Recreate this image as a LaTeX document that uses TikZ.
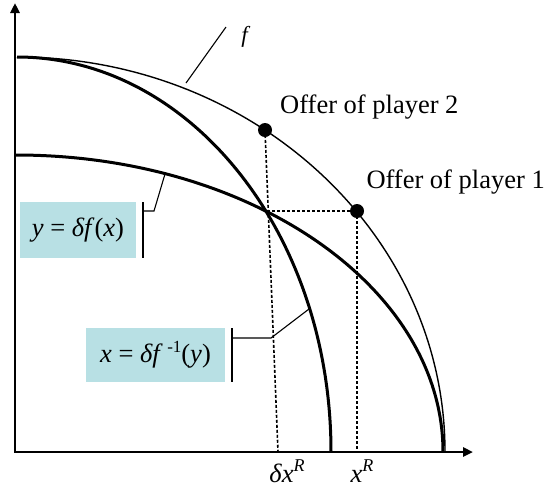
\documentclass[tikz,border=0pt]{standalone}
\usepackage{fontspec}
\setmainfont{Liberation Serif}
\usetikzlibrary{arrows.meta}
\definecolor{boxfill}{RGB}{184,224,228}
\begin{document}
\begin{tikzpicture}[x=1pt,y=1pt,
  axis/.style={line width=2.8pt},
  thickcurve/.style={line width=3pt},
  thincurve/.style={line width=1.4pt},
  guide/.style={line width=1.6pt, dash pattern=on 3pt off 2pt},
  leader/.style={line width=1.1pt},
  bar/.style={line width=1.4pt},
  lbl/.style={font=\fontsize{26.5}{30}\selectfont, inner sep=0pt},
  eqbox/.style={fill=boxfill, inner sep=0pt, font=\fontsize{26.5}{30}\selectfont},
  dot/.style={circle, fill=black, inner sep=0pt, minimum size=14pt}]
\useasboundingbox (0,0) rectangle (548,-499);

% axes
\coordinate (O) at (15,-452);
\coordinate (ytop) at (15,-3);
\coordinate (xend) at (473,-452);
\draw[axis,{Triangle[length=10pt,width=9pt]}-{Triangle[length=10pt,width=9pt]}] (ytop) -- (O) -- (xend);

% curves
\draw[thincurve] (17,-57) arc[start angle=90, end angle=0, x radius=428pt, y radius=395pt];
\draw[thickcurve] (17,-57) arc[start angle=90, end angle=0, x radius=314pt, y radius=395pt];
\draw[thickcurve] (16,-155) arc[start angle=90, end angle=0, x radius=427pt, y radius=297pt];

% points
\node[dot] (p2) at (265,-130) {};
\node[dot] (p1) at (357,-211) {};
\coordinate (X) at (267,-211);
\coordinate (dxr) at (278,-452);
\coordinate (xr) at (357,-452);

\draw[guide] (p2.center) -- (dxr);
\draw[guide] (X) -- (p1.center);
\draw[guide] (p1.center) -- (xr);

% labels
\node[lbl, anchor=base west] (o2) at (280,-113) {Offer of player 2};
\node[lbl, anchor=base east] (o1) at (545,-188) {Offer of player 1};
\node[lbl, anchor=base] (ldxr) at (287,-482) {\textit{δx}\raisebox{0.38em}{\fontsize{18}{18}\selectfont\textit{R}}};
\node[lbl, anchor=base] (lxr) at (362,-482) {\textit{x}\raisebox{0.38em}{\fontsize{18}{18}\selectfont\textit{R}}};

% f label
\node[lbl, font=\fontsize{23}{26}\selectfont] (fl) at (246,-37) {\textit{f}};
\coordinate (fa) at (226,-27);
\coordinate (fb) at (186,-83);
\draw[leader] (fa) -- (fb);

% box 1
\node[eqbox, minimum width=116pt, minimum height=56pt] (b1) at (78,-230) {\textit{y} = \textit{δf}(\textit{x})};
\coordinate (b1t) at (143,-202);
\coordinate (b1b) at (143,-258);
\draw[bar] (b1t) -- (b1b);
\coordinate (b1k) at (154,-211);
\coordinate (c1) at (165,-174);
\draw[leader] (143,-211) -- (b1k) -- (c1);

% box 2
\node[eqbox, minimum width=139pt, minimum height=54pt] (b2) at (155.5,-355) {\textit{x} = \textit{δf}\,\raisebox{0.36em}{\fontsize{17}{17}\selectfont -1}(\textit{y})};
\coordinate (b2t) at (232,-328);
\coordinate (b2b) at (232,-382);
\draw[bar] (b2t) -- (b2b);
\coordinate (b2k) at (271,-338);
\coordinate (c2) at (309,-309);
\draw[leader] (232,-338) -- (b2k) -- (c2);
\end{tikzpicture}
\end{document}
